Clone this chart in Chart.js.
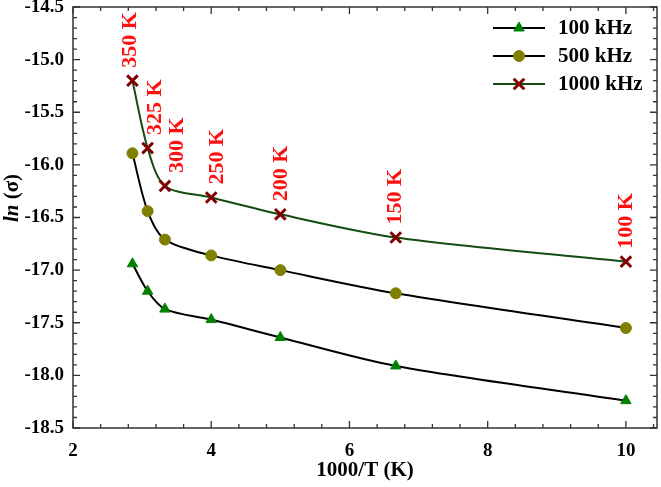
<!DOCTYPE html>
<html>
<head>
<meta charset="utf-8">
<script src="https://cdn.jsdelivr.net/npm/chart.js@4.4.1/dist/chart.umd.min.js"></script>
<style>
  html, body { margin: 0; padding: 0; background: #fff; }
  #wrap { width: 661px; height: 487px; }
</style>
</head>
<body>
<div id="wrap"><canvas id="grafico" width="661" height="487"></canvas></div>
<script>
// valores
const temperaturas = ['350 K', '325 K', '300 K', '250 K', '200 K', '150 K', '100 K'];
const invT = [2.86, 3.08, 3.33, 4.0, 5.0, 6.67, 10.0]; // 1000/T
const ln100 = [-16.94, -17.20, -17.37, -17.47, -17.64, -17.91, -18.24];
const ln500 = [-15.89, -16.44, -16.71, -16.86, -17.00, -17.22, -17.55];
const ln1000 = [-15.20, -15.84, -16.20, -16.31, -16.47, -16.69, -16.92];
const rotulosX = [2, 4, 6, 8, 10];
const rotulosY = [-18.5, -18.0, -17.5, -17.0, -16.5, -16.0, -15.5, -15.0, -14.5];

const serif = "'Liberation Serif', 'Times New Roman', serif";
const pares = ys => invT.map((x, i) => ({ x: x, y: ys[i] }));

// ticks para dentro nos quatro lados + caixa + legenda + rótulos de temperatura
const extras = {
  id: 'extras',
  afterDatasetsDraw(chart) {
    const ctx = chart.ctx;
    const meta = chart.getDatasetMeta(2);
    const dx = [-2, 8, 12, 6, 1, 0, 0];
    ctx.save();
    ctx.fillStyle = '#ff1010';
    ctx.font = 'bold 22px ' + serif;
    ctx.textAlign = 'left';
    ctx.textBaseline = 'middle';
    meta.data.forEach((pt, i) => {
      ctx.save();
      ctx.translate(pt.x + dx[i], pt.y - 13);
      ctx.rotate(-Math.PI / 2);
      ctx.fillText(temperaturas[i], 0, 0);
      ctx.restore();
    });
    ctx.restore();
  },
  afterDraw(chart) {
    const ctx = chart.ctx;
    const a = chart.chartArea;
    const sx = chart.scales.x, sy = chart.scales.y;
    ctx.save();
    ctx.strokeStyle = '#333';
    ctx.lineWidth = 1.5;
    ctx.strokeRect(a.left, a.top, a.right - a.left, a.bottom - a.top);
    ctx.lineWidth = 1.3;
    ctx.beginPath();
    for (let k = 0; k <= 21; k++) {
      const v = 2 + k * 0.4;
      const px = sx.getPixelForValue(v);
      const len = (k % 5 === 0) ? 7 : 4;
      ctx.moveTo(px, a.bottom); ctx.lineTo(px, a.bottom - len);
      ctx.moveTo(px, a.top); ctx.lineTo(px, a.top + len);
    }
    for (let k = 0; k <= 40; k++) {
      const v = -18.5 + k * 0.1;
      const py = sy.getPixelForValue(v);
      const len = (k % 5 === 0) ? 7 : 4;
      ctx.moveTo(a.left, py); ctx.lineTo(a.left + len, py);
      ctx.moveTo(a.right, py); ctx.lineTo(a.right - len, py);
    }
    ctx.stroke();

    // título do eixo y com "ln" em itálico
    ctx.translate(13, 198);
    ctx.rotate(-Math.PI / 2);
    ctx.fillStyle = '#000';
    ctx.textBaseline = 'middle';
    ctx.textAlign = 'left';
    const f1 = 'italic bold 21px ' + serif, f2 = 'bold 21px ' + serif;
    ctx.font = f1; const w1 = ctx.measureText('ln ').width;
    ctx.font = f2; const w2 = ctx.measureText('(σ)').width;
    const x0 = -(w1 + w2) / 2;
    ctx.font = f1; ctx.fillText('ln ', x0, 0);
    ctx.font = f2; ctx.fillText('(σ)', x0 + w1, 0);
    ctx.restore();

    // legenda
    ctx.save();
    chart.data.datasets.forEach((ds, i) => {
      const y = 28 + i * 28;
      ctx.strokeStyle = ds.borderColor;
      ctx.lineWidth = 2;
      ctx.beginPath(); ctx.moveTo(493, y); ctx.lineTo(545, y); ctx.stroke();
      ctx.fillStyle = ds.pointBackgroundColor;
      ctx.strokeStyle = ds.pointBorderColor;
      ctx.lineWidth = ds.pointBorderWidth;
      Chart.helpers.drawPoint(ctx, { pointStyle: ds.pointStyle, radius: ds.pointRadius, borderWidth: ds.pointBorderWidth, rotation: 0 }, 519, y);
      ctx.fillStyle = '#000';
      ctx.font = 'bold 21px ' + serif;
      ctx.textAlign = 'left';
      ctx.textBaseline = 'middle';
      ctx.fillText(ds.label, 558, y + 1);
    });
    ctx.restore();
  }
};

new Chart(document.getElementById('grafico').getContext('2d'), {
  type: 'line',
  data: {
    datasets: [
      {
        label: '100 kHz', data: pares(ln100),
        borderColor: '#000', borderWidth: 2,
        pointStyle: 'triangle', pointRadius: 6, pointBorderWidth: 1,
        pointBackgroundColor: '#008000', pointBorderColor: '#008000'
      },
      {
        label: '500 kHz', data: pares(ln500),
        borderColor: '#000', borderWidth: 2,
        pointStyle: 'circle', pointRadius: 5.5, pointBorderWidth: 1,
        pointBackgroundColor: '#808000', pointBorderColor: '#808000'
      },
      {
        label: '1000 kHz', data: pares(ln1000),
        borderColor: '#134d13', borderWidth: 2,
        pointStyle: 'crossRot', pointRadius: 7.5, pointBorderWidth: 3,
        pointBackgroundColor: '#800000', pointBorderColor: '#800000'
      }
    ]
  },
  options: {
    responsive: false,
    animation: false,
    devicePixelRatio: 1,
    layout: { autoPadding: false, padding: { left: 0, top: 7, right: 4, bottom: 0 } },
    elements: { line: { tension: 0.3, fill: false } },
    plugins: { legend: { display: false }, tooltip: { enabled: false } },
    scales: {
      x: {
        type: 'linear', min: 2, max: 10.45,
        afterBuildTicks: s => { s.ticks = rotulosX.map(v => ({ value: v })); },
        afterFit: s => { s.height = 59; s.paddingLeft = 0; s.paddingRight = 0; },
        grid: { display: false, drawTicks: false },
        border: { display: false },
        ticks: { color: '#000', padding: 12, font: { family: serif, size: 19, weight: 'bold' } },
        title: { display: true, text: '1000/T (K)', color: '#000', padding: { top: 0, bottom: 4 },
                 font: { family: serif, size: 21, weight: 'bold' } }
      },
      y: {
        type: 'linear', min: -18.5, max: -14.5,
        afterBuildTicks: s => { s.ticks = rotulosY.map(v => ({ value: v })); },
        afterFit: s => { s.width = 73; s.paddingTop = 0; s.paddingBottom = 0; },
        grid: { display: false, drawTicks: false },
        border: { display: false },
        ticks: { color: '#000', padding: 9, font: { family: serif, size: 19, weight: 'bold' },
                 callback: v => v.toFixed(1) }
      }
    }
  },
  plugins: [extras]
});
</script>
</body>
</html>
